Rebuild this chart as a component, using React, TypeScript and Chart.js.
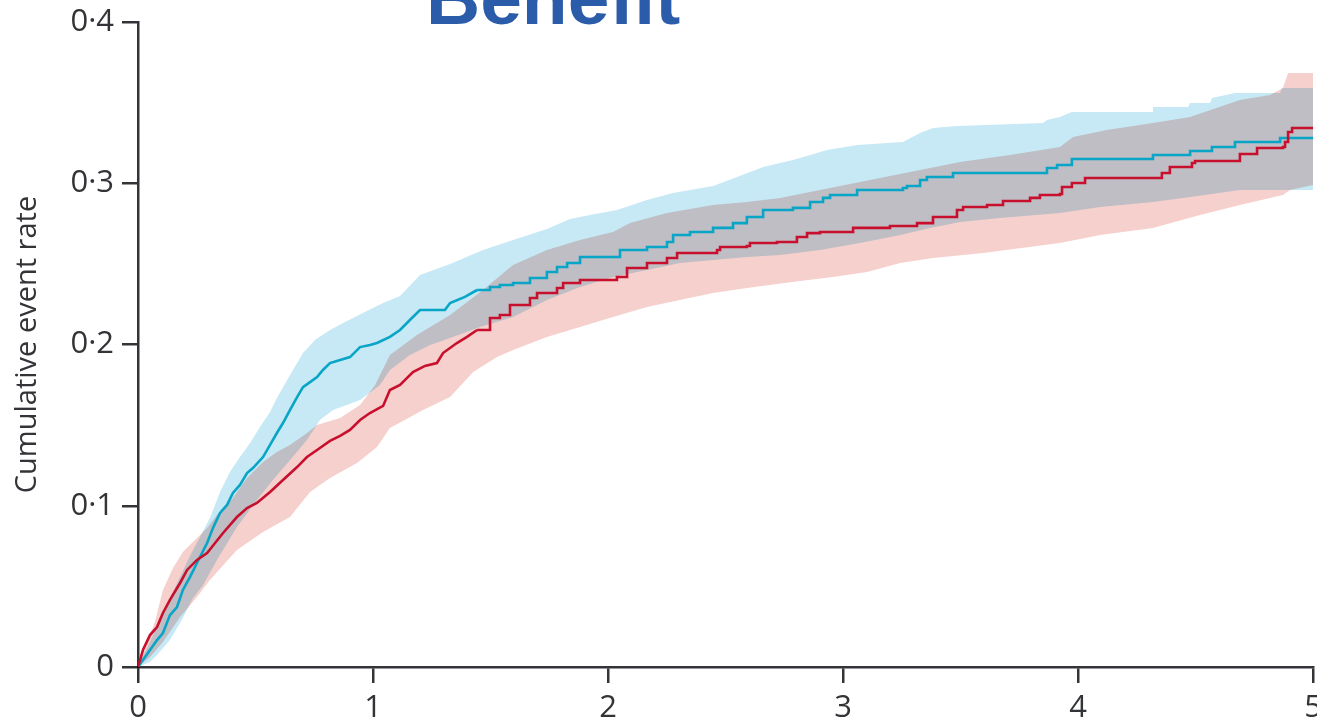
import React, { useEffect, useRef } from "react";
import { Chart, registerables } from "chart.js";

Chart.register(...registerables);

// ---- data (years, cumulative event rate) ----
const titleText = "Benefit";
const yAxisTitle = "Cumulative event rate";
const xTickValues = [0, 1, 2, 3, 4, 5];
const xTickLabels = ["0", "1", "2", "3", "4", "5"];
const yTickValues = [0, 0.1, 0.2, 0.3, 0.4];
const yTickLabels = ["0", "0·1", "0·2", "0·3", "0·4"];

const blueT = [0,0.021,0.051,0.081,0.106,0.136,0.166,0.191,0.221,0.251,0.294,0.319,0.349,0.379,0.404,0.434,0.464,0.489,0.532,0.562,0.591,0.617,0.647,0.677,0.702,0.732,0.762,0.787,0.817,0.860,0.902,0.945,0.987,1.017,1.072,1.115,1.157,1.200,1.306,1.328,1.391,1.443,1.498,1.540,1.596,1.668,1.740,1.783,1.826,1.881,2.021,2.051,2.166,2.251,2.277,2.349,2.447,2.532,2.591,2.660,2.787,2.860,2.915,2.945,3.060,3.255,3.272,3.328,3.357,3.468,3.851,3.868,3.911,3.974,4.315,4.319,4.468,4.477,4.562,4.570,4.660,4.668,4.851,4.860,5.0];
const blueV = [0,0.0043,0.0105,0.0167,0.0211,0.0322,0.0372,0.0478,0.0558,0.0645,0.0769,0.0862,0.0955,0.1005,0.1079,0.1129,0.1203,0.1234,0.1302,0.1377,0.1451,0.1513,0.1594,0.1674,0.1736,0.1767,0.1798,0.1842,0.1885,0.1904,0.1922,0.1984,0.1997,0.2009,0.2047,0.2090,0.2152,0.2214,0.2214,0.2257,0.2295,0.2338,0.2357,0.2369,0.2381,0.2412,0.2450,0.2481,0.2505,0.2543,0.2543,0.2586,0.2605,0.2636,0.2679,0.2698,0.2723,0.2753,0.2791,0.2834,0.2847,0.2884,0.2909,0.2927,0.2958,0.2971,0.2983,0.3020,0.3039,0.3064,0.3064,0.3095,0.3113,0.3150,0.3150,0.3175,0.3175,0.3200,0.3200,0.3225,0.3225,0.3256,0.3256,0.3281,0.3281];

const redT = [0,0.009,0.021,0.051,0.081,0.106,0.136,0.179,0.209,0.251,0.294,0.328,0.362,0.421,0.464,0.506,0.562,0.617,0.677,0.719,0.762,0.817,0.860,0.902,0.945,0.987,1.043,1.072,1.115,1.170,1.221,1.272,1.298,1.357,1.400,1.443,1.498,1.540,1.583,1.668,1.698,1.783,1.809,1.881,2.038,2.081,2.166,2.251,2.294,2.464,2.477,2.591,2.604,2.719,2.804,2.847,2.902,3.043,3.200,3.315,3.383,3.468,3.485,3.511,3.613,3.681,3.796,3.838,3.923,3.932,3.974,4.030,4.349,4.357,4.391,4.485,4.498,4.681,4.689,4.762,4.872,4.881,4.894,4.911,5.0];
const redV = [0,0.0043,0.0105,0.0198,0.0248,0.0335,0.0416,0.0521,0.0602,0.0664,0.0707,0.0769,0.0831,0.0930,0.0986,0.1017,0.1085,0.1160,0.1240,0.1302,0.1346,0.1402,0.1433,0.1470,0.1532,0.1575,0.1619,0.1718,0.1749,0.1829,0.1867,0.1885,0.1947,0.2009,0.2047,0.2090,0.2164,0.2183,0.2245,0.2288,0.2319,0.2350,0.2381,0.2400,0.2419,0.2474,0.2505,0.2536,0.2567,0.2586,0.2605,0.2611,0.2629,0.2636,0.2667,0.2691,0.2698,0.2723,0.2735,0.2753,0.2791,0.2791,0.2834,0.2853,0.2865,0.2890,0.2909,0.2927,0.2933,0.2977,0.3002,0.3033,0.3033,0.3064,0.3101,0.3126,0.3138,0.3138,0.3181,0.3219,0.3225,0.3256,0.3318,0.3343,0.3343];

const blueUpperT = [0,0.030,0.051,0.094,0.136,0.179,0.221,0.264,0.306,0.349,0.391,0.434,0.477,0.519,0.562,0.591,0.647,0.702,0.753,0.817,0.881,0.957,1.043,1.115,1.200,1.328,1.468,1.596,1.740,1.838,1.923,2.038,2.166,2.277,2.447,2.549,2.660,2.787,2.860,2.932,3.060,3.255,3.328,3.383,3.485,3.851,3.868,3.923,3.974,4.315,4.319,4.468,4.477,4.562,4.570,4.668,4.860,4.868,5.0];
const blueUpperV = [0,0.0093,0.0155,0.0291,0.0428,0.0558,0.0688,0.0806,0.0924,0.1085,0.1209,0.1302,0.1389,0.1488,0.1581,0.1668,0.1811,0.1947,0.2028,0.2090,0.2140,0.2195,0.2257,0.2301,0.2431,0.2499,0.2586,0.2648,0.2716,0.2778,0.2803,0.2834,0.2896,0.2940,0.2983,0.3039,0.3101,0.3144,0.3175,0.3206,0.3237,0.3256,0.3312,0.3343,0.3355,0.3374,0.3392,0.3411,0.3442,0.3442,0.3473,0.3473,0.3498,0.3498,0.3529,0.3560,0.3560,0.3591,0.3591];

const blueLowerT = [0,0.051,0.081,0.136,0.191,0.234,0.277,0.336,0.421,0.506,0.574,0.647,0.719,0.774,0.830,0.945,1.030,1.072,1.157,1.243,1.328,1.455,1.596,1.740,1.881,2.021,2.166,2.306,2.447,2.591,2.732,2.902,3.072,3.243,3.370,3.498,3.668,3.923,4.094,4.319,4.477,4.689,5.0];
const blueLowerV = [0,0.0031,0.0074,0.0167,0.0304,0.0428,0.0509,0.0664,0.0868,0.1036,0.1160,0.1284,0.1408,0.1532,0.1594,0.1656,0.1749,0.1842,0.1935,0.1997,0.2040,0.2109,0.2171,0.2276,0.2357,0.2419,0.2462,0.2505,0.2524,0.2543,0.2555,0.2586,0.2629,0.2679,0.2723,0.2760,0.2784,0.2816,0.2853,0.2884,0.2915,0.2958,0.2958];

const redUpperT = [0,0.021,0.051,0.072,0.106,0.149,0.191,0.251,0.294,0.336,0.391,0.464,0.532,0.591,0.647,0.719,0.762,0.860,0.945,1.009,1.072,1.187,1.328,1.468,1.596,1.740,1.881,2.021,2.094,2.251,2.447,2.591,2.732,2.902,3.072,3.285,3.498,3.711,3.923,3.979,4.123,4.319,4.477,4.689,4.817,4.872,4.894,5.0];
const redUpperV = [0,0.0074,0.0198,0.0279,0.0478,0.0614,0.0713,0.0800,0.0862,0.0943,0.1023,0.1172,0.1271,0.1333,0.1377,0.1451,0.1501,0.1544,0.1625,0.1749,0.1935,0.2059,0.2183,0.2338,0.2493,0.2586,0.2648,0.2698,0.2753,0.2816,0.2865,0.2884,0.2909,0.2958,0.3008,0.3070,0.3132,0.3175,0.3225,0.3287,0.3330,0.3374,0.3411,0.3516,0.3547,0.3591,0.3684,0.3684];

const redLowerT = [0,0.051,0.106,0.179,0.251,0.306,0.421,0.532,0.647,0.732,0.817,0.932,1.017,1.072,1.213,1.328,1.426,1.528,1.596,1.740,1.881,2.021,2.166,2.306,2.447,2.591,2.817,2.957,3.102,3.243,3.383,3.596,3.923,4.094,4.319,4.519,4.689,4.872,4.902,5.0];
const redLowerV = [0,0.0062,0.0155,0.0310,0.0434,0.0540,0.0726,0.0837,0.0930,0.1085,0.1172,0.1265,0.1364,0.1482,0.1594,0.1674,0.1829,0.1922,0.1966,0.2047,0.2109,0.2171,0.2233,0.2276,0.2319,0.2350,0.2394,0.2419,0.2450,0.2505,0.2536,0.2567,0.2629,0.2679,0.2723,0.2803,0.2865,0.2927,0.2958,0.2989];

// ---- style ----
const AXIS = "#333438";
const FONT = "'Open Sans', 'DejaVu Sans', sans-serif";
const STEP_FROM = 1.44; // lines drawn as stair-steps after this time

const pts = (t: number[], v: number[]) => t.map((x, i) => ({ x, y: v[i] }));
const splitPts = (t: number[], v: number[]) => {
  const k = t.findIndex((x) => x >= STEP_FROM);
  return [pts(t.slice(0, k + 1), v.slice(0, k + 1)), pts(t.slice(k), v.slice(k))];
};

// fills multiply (overlap turns grey), lines drawn normally
const blendPlugin = {
  id: "bandBlend",
  beforeDraw(chart: any) {
    chart.ctx.globalCompositeOperation = "multiply";
  },
  beforeDatasetDraw(chart: any) {
    chart.ctx.globalCompositeOperation = "source-over";
  },
  afterDraw(chart: any) {
    const ctx = chart.ctx;
    ctx.save();
    ctx.globalCompositeOperation = "source-over";
    ctx.fillStyle = "#2a5ca9";
    ctx.font = "bold 75px 'Liberation Sans', Arial, sans-serif";
    ctx.textAlign = "left";
    ctx.textBaseline = "alphabetic";
    ctx.fillText(titleText, 426, 24);
    ctx.restore();
  },
};

export default function App() {
  const ref = useRef<HTMLCanvasElement | null>(null);
  useEffect(() => {
    if (!ref.current) return;
    const band = (data: any, color: string | null, fill: any, order: number) => ({
      data,
      borderWidth: 0,
      borderColor: "rgba(0,0,0,0)",
      backgroundColor: color || "rgba(0,0,0,0)",
      pointRadius: 0,
      tension: 0,
      fill,
      order,
    });
    const line = (data: any, color: string, stepped: boolean, order: number) => ({
      data,
      borderColor: color,
      borderWidth: 2.6,
      pointRadius: 0,
      tension: 0,
      stepped,
      fill: false,
      order,
    });
    const [redEarly, redLate] = splitPts(redT, redV);
    const [blueEarly, blueLate] = splitPts(blueT, blueV);
    const chart = new Chart(ref.current, {
      type: "line",
      data: {
        datasets: [
          band(pts(blueUpperT, blueUpperV), "#c6e9f5", "+1", 4),
          band(pts(blueLowerT, blueLowerV), null, false, 5),
          band(pts(redUpperT, redUpperV), "#f5d0cc", "+1", 2),
          band(pts(redLowerT, redLowerV), null, false, 3),
          line(redEarly, "#c8102e", false, 0),
          line(redLate, "#c8102e", true, 0),
          line(blueEarly, "#08a5c6", false, 1),
          line(blueLate, "#08a5c6", true, 1),
        ] as any,
      },
      options: {
        responsive: false,
        animation: false,
        devicePixelRatio: 1,
        layout: { padding: { top: 22, right: 4, left: 0, bottom: 0 } },
        plugins: {
          legend: { display: false },
          tooltip: { enabled: false },
          filler: { drawTime: "beforeDatasetsDraw" },
        } as any,
        scales: {
          x: {
            type: "linear",
            min: 0,
            max: 5,
            afterBuildTicks: (s: any) => {
              s.ticks = xTickValues.map((value) => ({ value }));
            },
            afterFit: (s: any) => {
              s.height = 53;
              s.paddingLeft = 0;
              s.paddingRight = 0;
            },
            ticks: {
              callback: (_v: any, i: number) => xTickLabels[i],
              font: { family: FONT, size: 31 },
              color: AXIS,
              padding: 7,
              maxRotation: 0,
              autoSkip: false,
            },
            grid: { drawOnChartArea: false, drawTicks: true, tickLength: 16, color: AXIS, lineWidth: 2.5 },
            border: { display: true, color: AXIS, width: 2.5 },
          },
          y: {
            type: "linear",
            min: 0,
            max: 0.4,
            afterBuildTicks: (s: any) => {
              s.ticks = yTickValues.map((value) => ({ value }));
            },
            afterFit: (s: any) => {
              s.width = 138;
              s.paddingTop = 0;
              s.paddingBottom = 0;
            },
            ticks: {
              callback: (_v: any, i: number) => yTickLabels[i],
              font: { family: FONT, size: 31 },
              color: AXIS,
              padding: 8,
              autoSkip: false,
            },
            grid: { drawOnChartArea: false, drawTicks: true, tickLength: 16, color: AXIS, lineWidth: 2.5 },
            border: { display: true, color: AXIS, width: 2.5 },
            title: {
              display: true,
              text: yAxisTitle,
              font: { family: FONT, size: 29 },
              color: AXIS,
              padding: { top: 10, bottom: 0 },
            },
          },
        },
      } as any,
      plugins: [blendPlugin],
    });
    return () => chart.destroy();
  }, []);
  return (
    <div style={{ position: "fixed", left: 0, top: 0, width: 1317, height: 720, background: "#fff" }}>
      <canvas ref={ref} width={1317} height={720} />
    </div>
  );
}
